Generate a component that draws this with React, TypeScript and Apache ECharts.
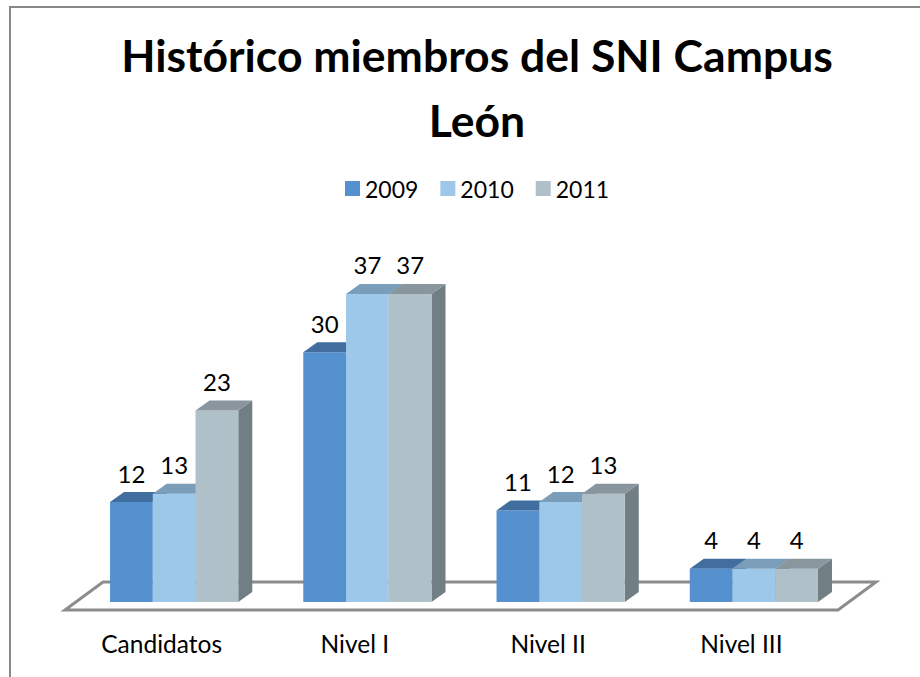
import React, { useEffect, useRef } from "react";
import * as echarts from "echarts";

const categories = ["Candidatos", "Nivel I", "Nivel II", "Nivel III"];
const seriesNames = ["2009", "2010", "2011"];
const values2009 = [12, 30, 11, 4];
const values2010 = [13, 37, 12, 4];
const values2011 = [23, 37, 13, 4];
const seriesValues = [values2009, values2010, values2011];

const frontColors = ["#5590CF", "#9DC8EA", "#B0C0C8"];
const topColors = ["#416E9F", "#7A9DBA", "#89969D"];
const sideColors = ["#3A6290", "#6F8DA6", "#717E84"];

const FONT = "Lato, 'Liberation Sans', Arial, sans-serif";

export default function App() {
  const ref = useRef<HTMLDivElement>(null);
  useEffect(() => {
    if (!ref.current) return;
    const chart = echarts.init(ref.current, undefined, { renderer: "svg" });
    const DX = 14;
    const DY = 10;
    const gridLeft = 65;
    const gridRight = 82;
    const gridBottom = 75;
    const floorFrontY = 610;
    const floorBackY = 582;
    const floorDX = 38;
    const series = seriesValues.map((vals, s) => ({
      type: "custom",
      name: seriesNames[s],
      itemStyle: { color: frontColors[s] },
      data: vals.map((v, i) => [i, v]),
      z: 2 + s,
      renderItem: (params: any, api: any) => {
        const cat = api.value(0);
        const val = api.value(1);
        const base = api.coord([cat, 0]);
        const top = api.coord([cat, val]);
        const bw = api.size([1, 0])[0];
        const barW = bw * 0.2212;
        const x0 = base[0] - bw * 0.267 + s * barW;
        const x1 = x0 + barW;
        const ty = top[1];
        const by = base[1];
        return {
          type: "group",
          children: [
            {
              type: "polygon",
              shape: { points: [[x1, ty], [x1 + DX, ty - DY], [x1 + DX, by - DY], [x1, by]] },
              style: { fill: sideColors[s] },
            },
            {
              type: "rect",
              shape: { x: x0, y: ty, width: barW, height: by - ty },
              style: { fill: frontColors[s] },
            },
            {
              type: "polygon",
              shape: { points: [[x0, ty], [x0 + DX, ty - DY], [x1 + DX, ty - DY], [x1, ty]] },
              style: { fill: topColors[s] },
            },
            {
              type: "text",
              style: {
                text: String(val),
                x: (x0 + x1) / 2,
                y: ty - 29,
                textAlign: "center",
                textVerticalAlign: "middle",
                fill: "#000",
                font: `24px ${FONT}`,
              },
            },
          ],
        };
      },
    }));

    chart.setOption({
      animation: false,
      backgroundColor: "#fff",
      title: {
        text: "Histórico miembros del SNI Campus\nLeón",
        left: 472,
        top: 17,
        textAlign: "center",
        textStyle: {
          fontFamily: FONT,
          fontWeight: "bold",
          fontSize: 44.5,
          lineHeight: 65,
          color: "#000",
        },
      },
      legend: {
        data: seriesNames,
        left: 340,
        top: 172,
        icon: "rect",
        itemWidth: 15,
        itemHeight: 15,
        itemGap: 22,
        textStyle: { fontFamily: FONT, fontSize: 23, color: "#000" },
      },
      grid: { left: gridLeft, right: gridRight, top: 269, bottom: gridBottom },
      xAxis: {
        type: "category",
        data: categories,
        axisLine: { show: false },
        axisTick: { show: false },
        axisLabel: { margin: 29, fontFamily: FONT, fontSize: 24.5, color: "#000" },
      },
      yAxis: {
        type: "value",
        min: 0,
        max: 40,
        show: false,
        splitLine: { show: false },
      },
      graphic: [
        {
          type: "rect",
          shape: { x: 10, y: 7, width: 1000, height: 1000 },
          style: { fill: "none", stroke: "#888", lineWidth: 2 },
          silent: true,
        },
        {
          type: "polygon",
          shape: {
            points: [
              [gridLeft, floorFrontY],
              [920 - gridRight, floorFrontY],
              [920 - gridRight + floorDX, floorBackY],
              [gridLeft + floorDX, floorBackY],
            ],
          },
          style: { fill: "#fff", stroke: "#8c8c8c", lineWidth: 3 },
          z: -1,
          silent: true,
        },
      ],
      series,
    });
    return () => chart.dispose();
  }, []);
  return (
    <div
      ref={ref}
      style={{ position: "fixed", left: 0, top: 0, width: 920, height: 677 }}
    />
  );
}
